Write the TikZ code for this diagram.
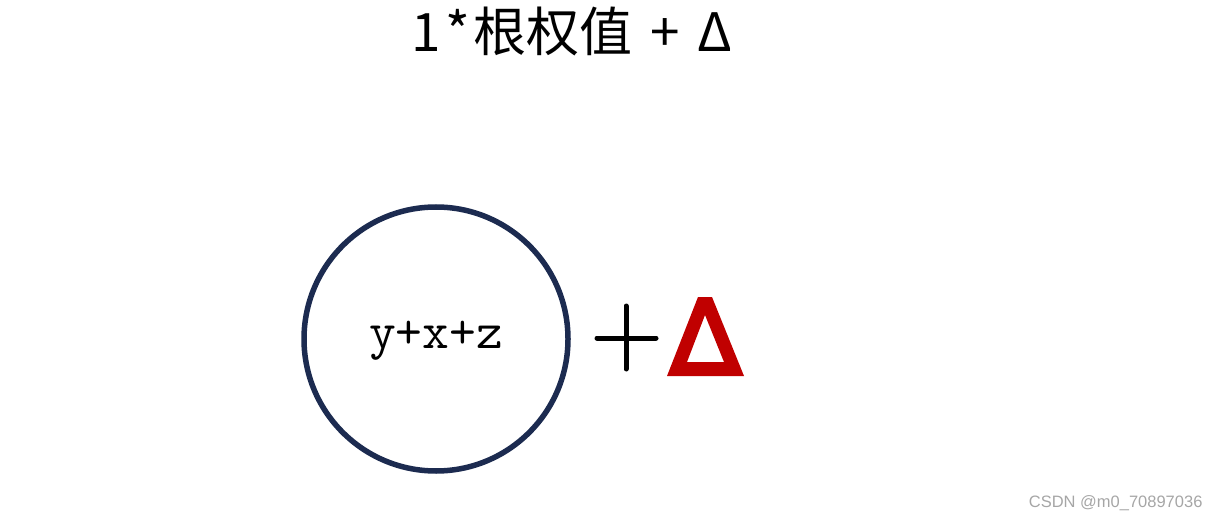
\documentclass[tikz,border=0pt]{standalone}
\usepackage{fontspec}
\setmainfont{Liberation Sans}
\newfontfamily\cjk{Noto Sans CJK SC}
\definecolor{navy}{HTML}{1C2B50}
\definecolor{deltared}{HTML}{C00000}
\definecolor{wmgray}{HTML}{A6A6A6}
\begin{document}
\begin{tikzpicture}[x=1pt,y=-1pt,
  ring/.style={circle,draw=navy,line width=5.5pt,minimum size=264pt,inner sep=0pt},
  plusline/.style={line width=5pt,line cap=round,black}]
\useasboundingbox (0,0) rectangle (1220,521);
\node[anchor=center] (title) at (572,31) {\cjk\fontsize{53}{55}\selectfont 1\kern5pt*\kern3pt根权值\hspace{18pt}+\hspace{18pt}Δ};
\node[ring] (c) at (436,339) {};
\node (t) at (436,341) {\ttfamily\fontsize{52}{54}\selectfont y+x+z};
\coordinate (pl) at (597,338);
\coordinate (pr) at (656,338);
\coordinate (pt) at (626,306);
\coordinate (pb) at (626,369);
\draw[plusline] (pl) -- (pr);
\draw[plusline] (pt) -- (pb);
\fill[deltared,even odd rule] (667,376) -- (698,297) -- (712,297) -- (744,376) -- cycle
  (687,362) -- (705,315) -- (724,362) -- cycle;
\node[anchor=east,text=wmgray] (wm) at (1206,503) {\fontsize{16.5}{18}\selectfont CSDN @m0\_70897036};
\end{tikzpicture}
\end{document}
